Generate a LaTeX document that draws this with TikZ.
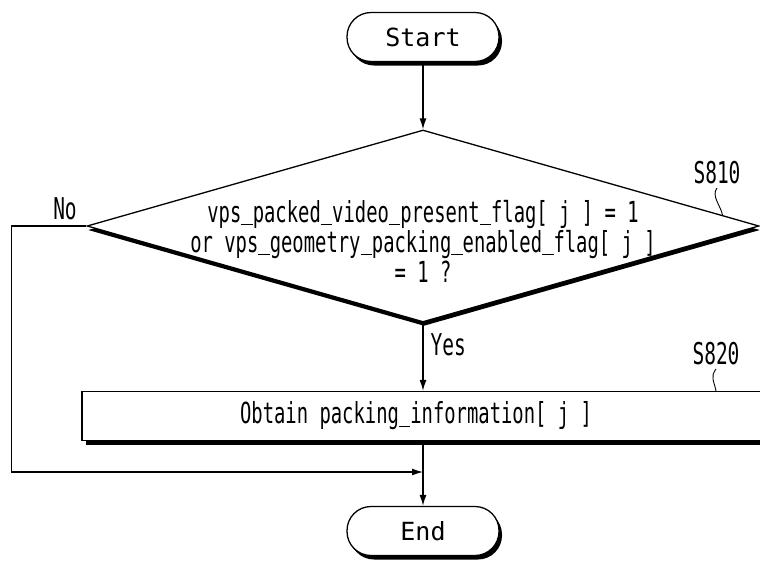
\documentclass[tikz,border=0pt]{standalone}
\usepackage{fontspec}
\setmainfont{DejaVu Sans Mono}[FakeStretch=0.65]
\newfontfamily\termfont{DejaVu Sans Mono}
\newcommand\us{\leavevmode\setbox0\hbox{x}\rule[-3pt]{\wd0}{1.4pt}}
\usetikzlibrary{shapes.geometric,shadows,arrows.meta,positioning,calc}

\begin{document}
\begin{tikzpicture}[x=1pt, y=-1pt, line width=1.3pt,
  darkshadow/.style = {drop shadow = {shadow xshift=#1, shadow yshift=-4pt, fill=black, opacity=1}},
  darkshadow/.default = 3pt,
  term/.style = {draw, fill=white, darkshadow, rounded corners=24pt, minimum width=152pt, minimum height=49pt, inner sep=0pt, font=\termfont\fontsize{25}{28}\selectfont},
  decision/.style = {diamond, draw, fill=white, darkshadow=1pt, minimum width=672pt, minimum height=192pt, inner sep=0pt},
  process/.style = {draw, fill=white, darkshadow=4pt, minimum width=700pt, minimum height=49pt, inner sep=0pt},
  maintext/.style = {font=\fontsize{29}{30}\selectfont, align=center, inner sep=0pt},
  steplabel/.style = {font=\fontsize{30}{30}\selectfont, inner sep=0pt},
  arrow/.style = {-{Latex[length=11pt, width=7pt]}}]
\useasboundingbox (0,0) rectangle (760,563);

\node[term] (start) at (423,37) {Start};
\node[decision, label={[maintext, yshift=-15pt]center:{vps\us packed\us video\us present\us flag[ j ] = 1\\or vps\us geometry\us packing\us enabled\us flag[ j ]\\= 1 ?}}] (s810) at (423,226) {};
\node[process, label={[maintext, xshift=-16pt]center:{Obtain packing\us information[ j ]}}] (s820) at (432,416) {};
\node[term] (end) at (423,531) {End};

% step labels and answers
\node[steplabel] (lbl810) at (717,173) {S810};
\node[steplabel] (lbl820) at (716,354) {S820};
\node[steplabel] (no) at (65,209) {No};
\node[steplabel, anchor=west] (yes) at (430,345) {Yes};

\coordinate (tip810) at ($(s810.north)!0.89!(s810.east)$);
\coordinate (tip820) at (lbl820.south |- s820.north);
\coordinate (merge) at (423,472);

% flow
\draw[arrow] (start) -- (s810);
\draw[arrow] (s810.south) -- (s810.south |- s820.north);
\draw[arrow] (end.north |- s820.south) -- (end.north);
\draw[arrow] (s810.west) -- ++(-75,0) |- (merge);

\begin{scope}[line width=0.9pt]
\draw (lbl810.south) ++(0,3) .. controls +(-6,8) and +(-2,-10) .. (tip810);
\draw (lbl820.south) ++(0,3) .. controls +(-6,8) and +(-2,-10) .. (tip820);
\end{scope}
\end{tikzpicture}
\end{document}
